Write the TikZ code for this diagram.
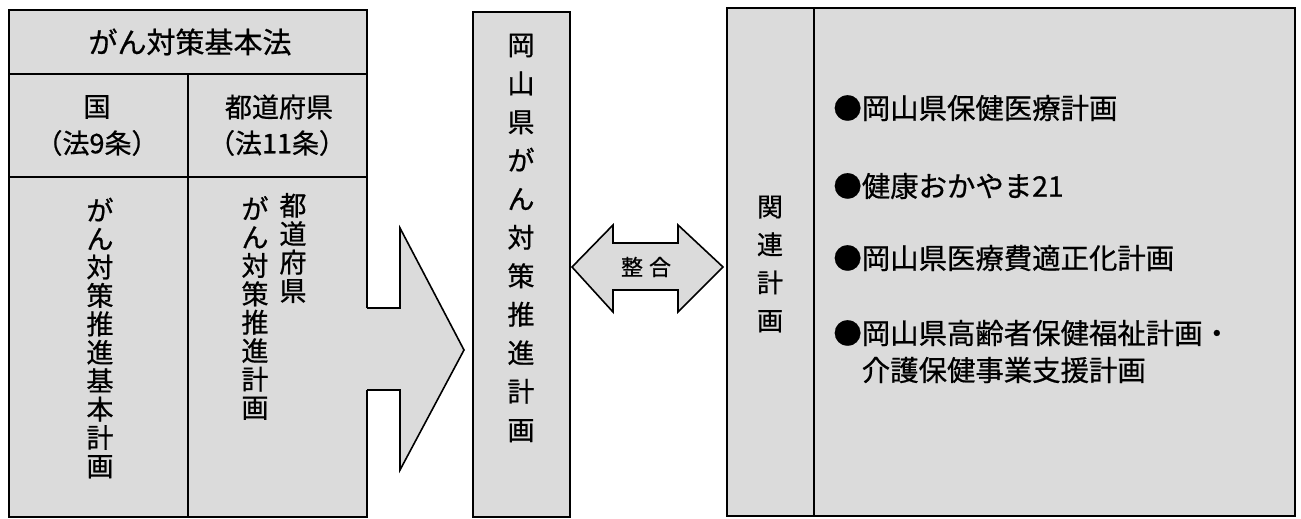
\documentclass[tikz,border=0pt]{standalone}
\usepackage{fontspec}
\setmainfont{Noto Sans CJK JP}[RawFeature={embolden=0.7}]
\definecolor{fillgray}{gray}{0.86}
\begin{document}
\begin{tikzpicture}[x=0.5pt,y=-0.5pt,
  boxline/.style={draw=black,line width=1pt},
  arrline/.style={draw=black,line width=0.8pt,line join=miter},
  jp/.style={inner sep=0pt,align=center,text=black},
  vcol/.style={jp,font=\fontsize{13.5pt}{14.2pt}\selectfont},
  vmid/.style={jp,font=\fontsize{13.5pt}{19.25pt}\selectfont},
  vrel/.style={jp,font=\fontsize{13pt}{19pt}\selectfont},
  hdr/.style={jp,font=\fontsize{13.5pt}{16pt}\selectfont},
  item/.style={inner sep=0pt,anchor=west,align=left,font=\fontsize{14.2pt}{18.5pt}\selectfont},
]
\useasboundingbox (0,0) rectangle (1301,519);
% fills
\fill[fillgray] (9,10) rectangle (367,517);
\fill[fillgray] (473,12) rectangle (570,517);
\fill[fillgray] (727,8) rectangle (1295,516);
% big arrow
\fill[fillgray] (364,308) -- (400,308) -- (400,228) -- (464,350) -- (400,470) -- (400,390) -- (364,390) -- cycle;
\draw[arrline] (367,308) -- (400,308) -- (400,228) -- (464,350) -- (400,470) -- (400,390) -- (367,390);
% left box outline
\draw[boxline] (367,308) -- (367,10) -- (9,10) -- (9,517) -- (367,517) -- (367,390);
\draw[boxline] (9,74) -- (367,74);
\draw[boxline] (9,177) -- (367,177);
\draw[boxline] (188,74) -- (188,517);
% middle box
\draw[black,line width=1.4pt] (473,12) rectangle (570,517);
% double arrow
\draw[arrline,fill=fillgray] (572,267) -- (613,225) -- (613,243) -- (678,243) -- (678,225) -- (723,267)
  -- (678,312) -- (678,290) -- (613,290) -- (613,312) -- cycle;
% right box
\draw[boxline] (727,8) rectangle (1295,516);
\draw[boxline] (814,8) -- (814,516);
% texts left
\node[jp,font=\fontsize{14.5pt}{16pt}\selectfont] (title) at (190,42) {がん対策基本法};
\node[hdr] (kuni) at (97,107) {国};
\node[hdr] (kunilaw) at (97,143) {（法9条）};
\node[hdr] (pref) at (279,107) {都道府県};
\node[hdr] (preflaw) at (277,143) {（法11条）};
\node[vcol] (kplan) at (100,338) {が\\ん\\対\\策\\推\\進\\基\\本\\計\\画};
\node[vcol] (pname) at (293,248) {都\\道\\府\\県};
\node[vcol] (pplan) at (255,308) {が\\ん\\対\\策\\推\\進\\計\\画};
% middle text
\node[vmid] (okplan) at (521,238) {岡\\山\\県\\が\\ん\\対\\策\\推\\進\\計\\画};
\node[jp,font=\fontsize{11pt}{13pt}\selectfont] (seigo) at (646,267) {整\hspace{3pt}合};
% right texts
\node[vrel] (rel) at (770,264) {関\\連\\計\\画};
\node[item] (i1) at (833,108) {●岡山県保健医療計画};
\node[item] (i2) at (833,186) {●健康おかやま21};
\node[item] (i3) at (833,258) {●岡山県医療費適正化計画};
\node[item] (i4) at (833,351.5) {●岡山県高齢者保健福祉計画・\\\hspace{14.2pt}介護保健事業支援計画};
\end{tikzpicture}
\end{document}
